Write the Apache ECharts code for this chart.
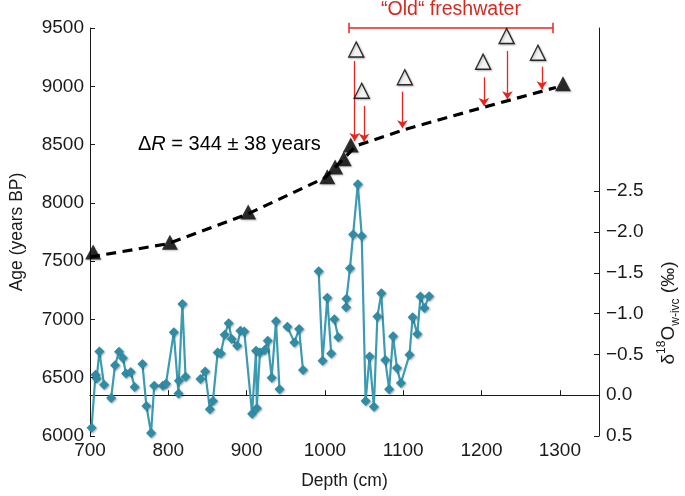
<!DOCTYPE html>
<html>
<head>
<meta charset="utf-8">
<script src="https://cdn.jsdelivr.net/npm/echarts@6/dist/echarts.min.js"></script>
<style>
html,body{margin:0;padding:0;background:#fff;}
#chart{width:685px;height:496px;}
</style>
</head>
<body>
<div id="chart"></div>
<script>
// ---- Data ----
// Dated levels (filled triangles): depth (cm), age (years BP)
const datedDepth = [704, 802, 902, 1003, 1013, 1024, 1033, 1304];
const datedAge   = [7578, 7662, 7922, 8225, 8308, 8378, 8496, 9022];
// "Old" freshwater ages (open triangles)
const oldDepth = [1040, 1047, 1102, 1202, 1232, 1272];
const oldAge   = [9316, 8962, 9077, 9211, 9431, 9288];
// Age-depth model (dashed)
const modelDepth = [700, 800, 900, 1000, 1040, 1100, 1200, 1295];
const modelAge   = [7535, 7650, 7900, 8215, 8490, 8625, 8815, 8990];
// Correction arrows: depth, from age, to age
const arrowDepth = [1038, 1050, 1099, 1203, 1233, 1277];
const arrowFrom  = [9217, 8831, 8954, 9077, 9303, 9168];
const arrowTo    = [8530, 8525, 8640, 8831, 8889, 8974];
// Bracket for "Old" freshwater
const bracketDepth = [1031, 1291];
const bracketAge = 9500;
// δ18O w-ivc record (null = gap)
const o18Depth = [702,707,708.5,712,718,null,
  727,732,737,742,746,752,757,null,
  767,772,778,782,793,797,807,813,813.5,818,822,null,
  841,847,853,857,863,867,872,877,881,888,892,897,907,912,913,917,923,927,932,937.5,942,null,
  952,961,967,972,null,
  992,997,1003,1008,null,
  1012,1017,null,
  1027,1027.5,1032,1036,1042,1047,1052,1057,1062.5,1067,1072,1077,1082,1087,1092,1097,1108,1112,1118,1122,1127,1133];
const o18Value = [0.40,-0.25,-0.205,-0.535,-0.127,null,
  0.033,-0.367,-0.533,-0.455,-0.266,-0.283,-0.102,null,
  -0.382,0.131,0.463,-0.115,-0.115,-0.139,-0.77,-0.02,-0.176,-1.119,-0.225,null,
  -0.197,-0.291,0.172,0.07,-0.524,-0.512,-0.742,-0.881,-0.689,-0.607,-0.791,-0.782,0.226,-0.545,0.159,-0.524,-0.554,-0.668,-0.213,-0.905,-0.072,null,
  -0.84,-0.647,-0.812,-0.308,null,
  -1.52,-0.422,-1.193,-0.512,null,
  -0.932,-0.709,null,
  -1.078,-1.181,-1.557,-1.968,-2.586,-1.951,0.07,-0.475,0.143,-0.963,-1.25,-0.431,-0.074,-0.721,-0.332,-0.148,-0.496,-0.955,-0.75,-1.209,-1.07,-1.213];
// Axis ticks
const xTicks = [700, 800, 900, 1000, 1100, 1200, 1300];
const ageTicks = [6000, 6500, 7000, 7500, 8000, 8500, 9000, 9500];
const o18Ticks = [-2.5, -2.0, -1.5, -1.0, -0.5, 0.0, 0.5];

const FONT = '"Liberation Sans", Arial, Helvetica, sans-serif';
const AX = '#1a1a1a';
const RED = '#e8241c';
const BLUE = '#3b9bb3';
const TICK_FS = 19;

const zip = (a, b) => a.map((v, i) => [v, b[i]]);
const o18Data = o18Depth.map((d, i) => (d === null || o18Value[i] === null) ? ['-', '-'] : [d, o18Value[i]]);
const arrowData = arrowDepth.map((d, i) => ({ coords: [[d, arrowFrom[i]], [d, arrowTo[i]]] }));
const capH = 45;
const bracketData = [
  { coords: [[bracketDepth[0], bracketAge], [bracketDepth[1], bracketAge]] },
  { coords: [[bracketDepth[0], bracketAge - capH], [bracketDepth[0], bracketAge + capH]] },
  { coords: [[bracketDepth[1], bracketAge - capH], [bracketDepth[1], bracketAge + capH]] }
];
const fmtMinus = v => {
  const s = Math.abs(v).toFixed(1);
  return v < -1e-9 ? '\u2212' + s : s;
};
const fmtPlain = v => String(Math.round(v));

const chart = echarts.init(document.getElementById('chart'), null, { renderer: 'canvas' });
chart.setOption({
  animation: false,
  backgroundColor: '#fff',
  textStyle: { fontFamily: FONT },
  grid: { left: 85, right: 86, top: 28, bottom: 60, containLabel: false },
  xAxis: {
    type: 'value', min: 700, max: 1350, interval: 100,
    axisLine: { show: true, lineStyle: { color: AX, width: 1 } },
    axisTick: { show: true, inside: true, length: 5, lineStyle: { color: AX }, customValues: xTicks },
    axisLabel: { color: AX, fontSize: TICK_FS, fontFamily: FONT, margin: 5, customValues: xTicks, formatter: fmtPlain },
    splitLine: { show: false },
    name: 'Depth (cm)', nameLocation: 'middle', nameGap: 36,
    nameTextStyle: { color: AX, fontSize: 17.5, fontFamily: FONT }
  },
  yAxis: [{
    type: 'value', min: 6000, max: 9500, interval: 500,
    axisLine: { show: true, lineStyle: { color: AX, width: 1 } },
    axisTick: { show: true, inside: true, length: 5, lineStyle: { color: AX }, customValues: ageTicks },
    axisLabel: { color: AX, fontSize: TICK_FS, fontFamily: FONT, margin: 6, customValues: ageTicks, formatter: fmtPlain },
    splitLine: { show: false },
    name: 'Age (years BP)', nameLocation: 'middle', nameGap: 64, nameRotate: 90,
    nameTextStyle: { color: AX, fontSize: 17.5, fontFamily: FONT }
  }, {
    type: 'value', position: 'right', min: -4.5, max: 0.5, interval: 0.5, inverse: true,
    axisLine: { show: true, lineStyle: { color: AX, width: 1 } },
    axisTick: { show: true, inside: true, length: 5, lineStyle: { color: AX }, customValues: o18Ticks },
    axisLabel: { color: AX, fontSize: TICK_FS, fontFamily: FONT, margin: 7, customValues: o18Ticks, formatter: fmtMinus },
    splitLine: { show: false }
  }],
  series: [
    {
      name: 'model', type: 'line', xAxisIndex: 0, yAxisIndex: 0,
      data: zip(modelDepth, modelAge), showSymbol: false, symbol: 'none',
      lineStyle: { color: '#000', width: 3.2, type: [10, 6.5] }, z: 2
    },
    {
      name: 'o18', type: 'line', xAxisIndex: 0, yAxisIndex: 1,
      data: o18Data, connectNulls: false,
      symbol: 'diamond', symbolSize: 10, showAllSymbol: true,
      lineStyle: { color: BLUE, width: 2.2 },
      itemStyle: { color: '#2f8ca4', shadowColor: 'rgba(0,0,0,0.35)', shadowBlur: 2, shadowOffsetX: 1, shadowOffsetY: 1 },
      z: 3
    },
    {
      name: 'dated', type: 'scatter', xAxisIndex: 0, yAxisIndex: 0,
      data: zip(datedDepth, datedAge), symbol: 'triangle', symbolSize: [16, 15],
      itemStyle: { color: '#000', shadowColor: 'rgba(0,0,0,0.3)', shadowBlur: 2, shadowOffsetX: 1, shadowOffsetY: 1 },
      z: 5
    },
    {
      name: 'old', type: 'scatter', xAxisIndex: 0, yAxisIndex: 0,
      data: zip(oldDepth, oldAge), symbol: 'triangle', symbolSize: [15, 15],
      itemStyle: { color: '#fff', borderColor: '#000', borderWidth: 1.4, shadowColor: 'rgba(0,0,0,0.3)', shadowBlur: 2, shadowOffsetX: 1, shadowOffsetY: 1 },
      z: 5
    },
    {
      name: 'arrows', type: 'lines', coordinateSystem: 'cartesian2d', xAxisIndex: 0, yAxisIndex: 0,
      data: arrowData, symbol: ['none', 'arrow'], symbolSize: 8, clip: false,
      lineStyle: { color: RED, width: 1.3, opacity: 1, curveness: 0 }, z: 4
    },
    {
      name: 'bracket', type: 'lines', coordinateSystem: 'cartesian2d', xAxisIndex: 0, yAxisIndex: 0,
      data: bracketData, symbol: ['none', 'none'], clip: false,
      lineStyle: { color: RED, width: 1.5, opacity: 1, curveness: 0 }, z: 4
    }
  ]
});

const mid = chart.convertToPixel({ xAxisIndex: 0, yAxisIndex: 0 }, [(bracketDepth[0] + bracketDepth[1]) / 2, bracketAge]);
chart.setOption({
  graphic: [
    {
      type: 'text', x: mid[0], y: mid[1] - 18,
      style: { text: '\u201cOld\u201c freshwater', fill: '#d42a20', font: '19.5px ' + FONT, textAlign: 'center', textVerticalAlign: 'middle' }
    },
    {
      type: 'text', x: 138, y: 144,
      style: {
        text: '{n|\u0394}{i|R}{n| = 344 \u00b1 38 years}',
        textVerticalAlign: 'middle',
        rich: {
          n: { fontSize: 20, fontFamily: FONT, fill: '#000' },
          i: { fontSize: 20, fontFamily: FONT, fontStyle: 'italic', fill: '#000' }
        }
      }
    },
    {
      type: 'text', x: 669, y: 313, rotation: Math.PI / 2,
      style: {
        text: '{a|\u03b4}{s|18}{a|O}{b|w-ivc}{a| (\u2030)}',
        textAlign: 'center', textVerticalAlign: 'middle',
        rich: {
          a: { fontSize: 19, fontFamily: FONT, fill: AX, lineHeight: 26, verticalAlign: 'middle' },
          s: { fontSize: 12, fontFamily: FONT, fill: AX, lineHeight: 26, verticalAlign: 'top' },
          b: { fontSize: 12, fontFamily: FONT, fill: AX, lineHeight: 26, verticalAlign: 'bottom' }
        }
      }
    }
  ]
});
</script>
</body>
</html>
